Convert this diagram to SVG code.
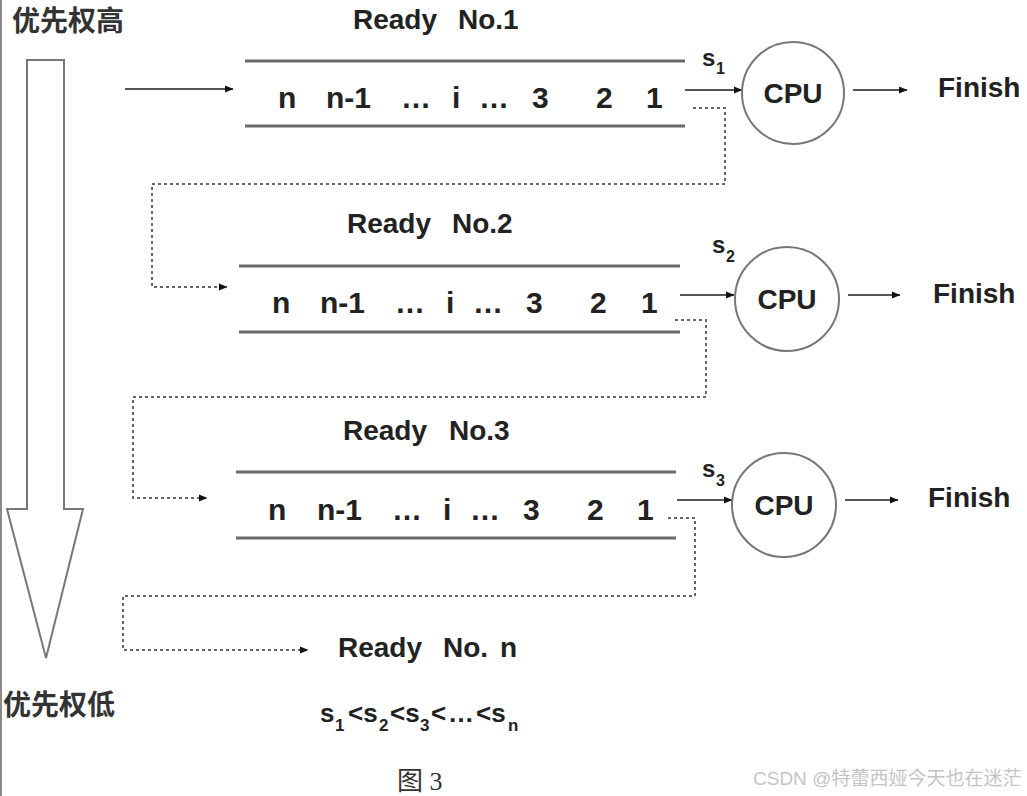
<svg xmlns="http://www.w3.org/2000/svg" width="1027" height="796" viewBox="0 0 1027 796">
<defs>
<style>
.b{font-family:"Liberation Sans",Arial,sans-serif;font-weight:bold;fill:#222}
.q{font-size:30px}
.r{font-size:28px}
.f{font-size:28px}
.cjk{font-family:"Noto Sans CJK SC",sans-serif;font-weight:bold;fill:#333;font-size:28px}
.ql{stroke:#6a6a6a;stroke-width:3;fill:none}
.cpu{stroke:#777;stroke-width:2;fill:#fff}
.ar{stroke:#555;stroke-width:2;fill:none;marker-end:url(#ah)}
.dot{stroke:#666;stroke-width:2;fill:none;stroke-dasharray:3 3;marker-end:url(#ah)}
.s{font-size:24px}
.sub{font-size:16px}
.lg{font-size:26px}
.lsub{font-size:17px}
</style>
<marker id="ah" markerUnits="userSpaceOnUse" markerWidth="9" markerHeight="8" refX="8" refY="4" orient="auto">
<path d="M0,0.5 L8.5,4 L0,7.5 z" fill="#111"/>
</marker>
</defs>
<rect width="1027" height="796" fill="#fff"/>
<line x1="1" y1="0" x2="1" y2="796" stroke="#8a8a8a" stroke-width="2"/>

<g id="priority">
<path d="M27,60 L64,60 L64,509 L83,509 L46,658 L7,509 L27,509 Z" fill="#fff" stroke="#777" stroke-width="2"/>
<text class="cjk" x="12" y="31">优先权高</text>
<text class="cjk" x="3" y="715">优先权低</text>
</g>

<g id="connectors">
<line class="ar" x1="125" y1="89" x2="233" y2="89"/>
<line class="ar" x1="685" y1="90" x2="742" y2="90"/>
<line class="ar" x1="853" y1="90" x2="907" y2="90"/>
<line class="ar" x1="680" y1="295" x2="734" y2="295"/>
<line class="ar" x1="848" y1="295" x2="900" y2="295"/>
<line class="ar" x1="677" y1="500" x2="732" y2="500"/>
<line class="ar" x1="845" y1="500" x2="898" y2="500"/>
<path class="dot" d="M693,108 H725 V184 H152 V287 H227"/>
<path class="dot" d="M675,320 H706 V397 H133 V498 H207"/>
<path class="dot" d="M668,518 H695 V596 H123 V650 H308"/>
</g>

<g id="queue1">
<text class="b r" y="29"><tspan x="353">Ready</tspan><tspan x="458">No.1</tspan></text>
<line class="ql" x1="245" y1="61" x2="685" y2="61"/>
<line class="ql" x1="245" y1="126" x2="685" y2="126"/>
<text class="b q" y="108"><tspan x="278">n</tspan><tspan x="326">n-1</tspan><tspan x="401">…</tspan><tspan x="452">i</tspan><tspan x="479">…</tspan><tspan x="532">3</tspan><tspan x="596">2</tspan><tspan x="646">1</tspan></text>
</g>

<g id="queue2">
<text class="b r" y="233"><tspan x="347">Ready</tspan><tspan x="452">No.2</tspan></text>
<line class="ql" x1="239" y1="266" x2="680" y2="266"/>
<line class="ql" x1="239" y1="332" x2="680" y2="332"/>
<text class="b q" y="313"><tspan x="272">n</tspan><tspan x="320">n-1</tspan><tspan x="395">…</tspan><tspan x="446">i</tspan><tspan x="473">…</tspan><tspan x="526">3</tspan><tspan x="590">2</tspan><tspan x="641">1</tspan></text>
</g>

<g id="queue3">
<text class="b r" y="440"><tspan x="343">Ready</tspan><tspan x="449">No.3</tspan></text>
<line class="ql" x1="236" y1="472" x2="676" y2="472"/>
<line class="ql" x1="236" y1="538" x2="676" y2="538"/>
<text class="b q" y="520"><tspan x="268">n</tspan><tspan x="317">n-1</tspan><tspan x="392">…</tspan><tspan x="443">i</tspan><tspan x="470">…</tspan><tspan x="523">3</tspan><tspan x="587">2</tspan><tspan x="637">1</tspan></text>
</g>

<g id="queueN">
<text class="b r" y="657"><tspan x="338">Ready</tspan><tspan x="443">No.</tspan><tspan x="500">n</tspan></text>
</g>

<g id="cpu1">
<circle class="cpu" cx="793" cy="93" r="51"/>
<text class="b f" x="793" y="103" text-anchor="middle">CPU</text>
<text class="b"><tspan class="s" x="702" y="66">s</tspan><tspan class="sub" x="716" y="74">1</tspan></text>
</g>
<g id="finish1"><text class="b f" x="938" y="97">Finish</text></g>

<g id="cpu2">
<circle class="cpu" cx="787" cy="299" r="52"/>
<text class="b f" x="787" y="309" text-anchor="middle">CPU</text>
<text class="b"><tspan class="s" x="712" y="253">s</tspan><tspan class="sub" x="726" y="262">2</tspan></text>
</g>
<g id="finish2"><text class="b f" x="933" y="303">Finish</text></g>

<g id="cpu3">
<circle class="cpu" cx="784" cy="505" r="52"/>
<text class="b f" x="784" y="515" text-anchor="middle">CPU</text>
<text class="b"><tspan class="s" x="702" y="477">s</tspan><tspan class="sub" x="716" y="486">3</tspan></text>
</g>
<g id="finish3"><text class="b f" x="928" y="507">Finish</text></g>

<g id="legend">
<text class="b lg"><tspan x="320" y="722">s</tspan><tspan class="lsub" x="335" y="731">1</tspan><tspan x="348" y="722">&lt;s</tspan><tspan class="lsub" x="379" y="731">2</tspan><tspan x="390" y="722">&lt;s</tspan><tspan class="lsub" x="420" y="731">3</tspan><tspan x="431" y="722">&lt;</tspan><tspan x="448" y="722">…</tspan><tspan x="476" y="722">&lt;s</tspan><tspan class="lsub" x="508" y="731">n</tspan></text>
<text x="397" y="790" style="font-family:'Liberation Serif','Noto Sans CJK SC',serif;font-size:26px;fill:#333">图 3</text>
</g>

<g id="watermark">
<text x="753" y="785" style="font-family:'Liberation Sans','Noto Sans CJK SC',sans-serif;font-size:19px;fill:#c4c4c4">CSDN @特蕾西娅今天也在迷茫</text>
</g>
</svg>
